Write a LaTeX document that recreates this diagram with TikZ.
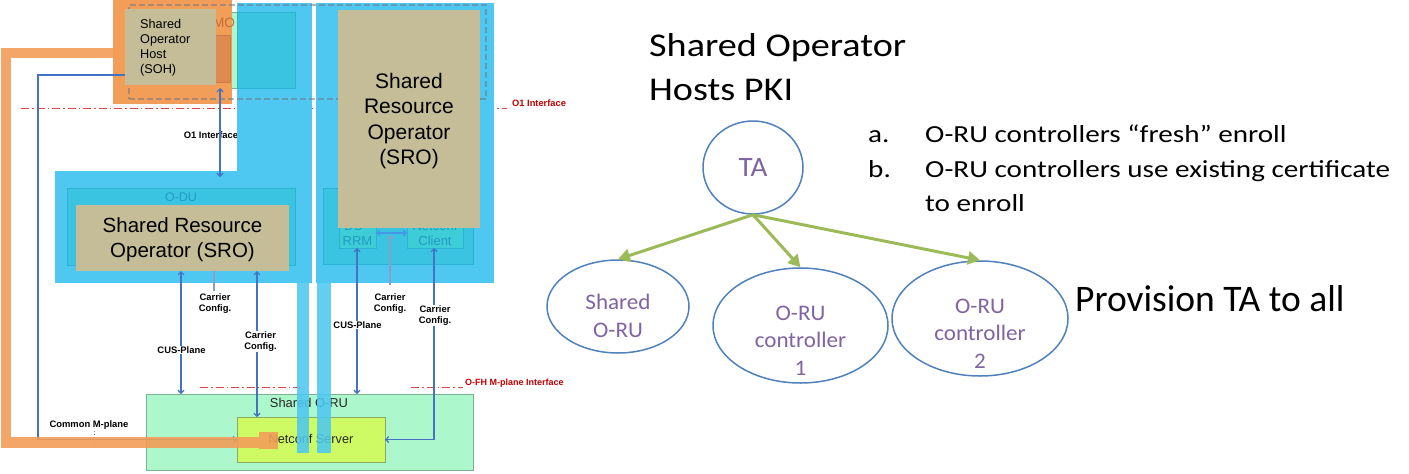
\documentclass[tikz,border=0pt]{standalone}
\usepackage{fontspec}
\setmainfont{Liberation Sans}
\newfontfamily\calfont{Carlito}
\newfontfamily\caltitle[FakeStretch=1.15]{Carlito}
\newfontfamily\callist[FakeStretch=1.19]{Carlito}
\newfontfamily\calell[FakeStretch=1.04]{Carlito}
\usetikzlibrary{arrows.meta,shapes.geometric}
\definecolor{cblue}{RGB}{78,200,240}
\definecolor{cdark}{RGB}{58,196,226}
\definecolor{cdarkline}{RGB}{44,178,212}
\definecolor{cboxin}{RGB}{62,204,214}
\definecolor{ctan}{RGB}{196,189,151}
\definecolor{corange}{RGB}{242,157,88}
\definecolor{corinner}{RGB}{224,138,82}
\definecolor{corinline}{RGB}{205,122,70}
\definecolor{cgreen}{RGB}{173,247,204}
\definecolor{cgreenline}{RGB}{125,175,145}
\definecolor{cyel}{RGB}{206,250,100}
\definecolor{cyelline}{RGB}{140,170,95}
\definecolor{lblue}{RGB}{68,114,196}
\definecolor{lgrey}{RGB}{135,160,200}
\definecolor{lcyan}{RGB}{70,150,225}
\definecolor{cred}{RGB}{192,0,0}
\definecolor{credline}{RGB}{222,70,70}
\definecolor{ellline}{RGB}{79,129,189}
\definecolor{purp}{RGB}{128,100,162}
\definecolor{agreen}{RGB}{155,187,89}
\definecolor{dimtext}{RGB}{35,155,195}
\definecolor{mtext}{RGB}{195,110,55}
\definecolor{dashgrey}{RGB}{110,120,130}
\newcommand\mkbox[6]{\node[rbox,#6,minimum width={(#4)-(#2)},minimum height={(#5)-(#3)}] (#1) at (#2,#3) {};}
\tikzset{
  rbox/.style={anchor=north west, inner sep=0pt, outer sep=0pt},
  txt/.style={anchor=base, inner sep=0pt, align=center},
  lbl/.style={anchor=base, align=center, inner sep=0.6pt, fill=white, font=\bfseries\fontsize{9.4}{11}\selectfont},
  redlbl/.style={anchor=base west, inner sep=0pt, text=cred, font=\bfseries\fontsize{9.3}{11}\selectfont},
  reddash/.style={draw=credline, line width=0.9pt, dash pattern=on 8pt off 3pt on 1.5pt off 3pt},
  conn/.style={draw=lblue, line width=1.2pt, arrows={Straight Barb[length=3pt,width=6pt]-Straight Barb[length=3pt,width=6pt]}},
  connend/.style={draw=lblue, line width=1.2pt, -{Straight Barb[length=3pt,width=6pt]}},
  ell/.style={ellipse, draw=ellline, line width=1.5pt, inner sep=0pt},
  elltxt/.style={anchor=base, align=center, inner sep=0pt, text=purp, font=\calell\fontsize{22.2}{27.5}\selectfont},
  garrow/.style={draw=agreen, line width=3pt, -{Triangle[length=12pt,width=13pt]}},
  big/.style={inner sep=0pt, font=\calfont\fontsize{37.5}{44}\selectfont},
  titlefont/.style={inner sep=0pt, font=\caltitle\fontsize{33.2}{44}\selectfont},
  mid/.style={inner sep=0pt, anchor=base west, font=\callist\fontsize{24.5}{34.5}\selectfont},
}
\begin{document}
\begin{tikzpicture}[x=1pt,y=-1pt]
\useasboundingbox[fill=white] (0,0) rectangle (1409,474);

% ---------- SMO area under the orange ----------
\mkbox{smogreen}{145}{12}{295}{88}{fill=cgreen, draw=cgreenline, line width=0.8pt}
\mkbox{sohblock}{113}{0}{232}{104}{fill=corange}
\mkbox{smoinner}{145}{35}{230}{82}{fill=corinner, draw=corinline, line width=0.8pt}
\node[txt, text=mtext, font=\fontsize{13.6}{16}\selectfont] (smolabel) at (219.5,27) {SMO};

% ---------- O1 interface line ----------
\coordinate (o1a) at (21,108);
\coordinate (o1b) at (507,108);
\draw[reddash] (o1a) -- (o1b);
\node[redlbl] (o1lbl) at (512,106.3) {O1 Interface};

% O1 Interface label (partly under the blue column)
\begin{scope}
\clip (0,110) rectangle (237,170);
\node[lbl] (o1lblb) at (211,138.3) {O1 Interface};
\end{scope}

% ---------- blue columns ----------
\mkbox{col1}{237}{3}{312}{283}{fill=cblue}
\mkbox{dublue}{55}{171}{312}{283}{fill=cblue}
\mkbox{col2}{316}{3}{494}{283}{fill=cblue}
\mkbox{smodark}{237}{12}{295}{88}{fill=cdark, draw=cdarkline, line width=0.8pt}

% dashed SMO outline
\mkbox{smo}{129}{5}{486}{99}{draw=dashgrey, draw opacity=0.55, line width=1.2pt, dash pattern=on 6pt off 3pt}

% SOH
\mkbox{soh}{125}{9}{216}{85}{fill=ctan}
\node[anchor=base west, inner sep=0pt, align=left, font=\fontsize{12.7}{15}\selectfont] (sohtext) at (140,73.5) {Shared\\Operator\\Host\\(SOH)};

% ---------- O-DU (left) ----------
\mkbox{odu}{67}{188}{295}{265}{fill=cdark, draw=cdarkline, line width=0.8pt}
\node[txt, text=dimtext, font=\fontsize{12.5}{15}\selectfont] (odutext) at (181,201.5) {O-DU};
\mkbox{sroL}{76}{205}{289}{271}{fill=ctan}
\node[txt, font=\fontsize{20.5}{25}\selectfont] (sroLtext) at (182.5,257.3) {Shared Resource\\Operator (SRO)};

% ---------- right column ----------
\mkbox{odu2}{323}{188}{473}{264}{fill=cdark, draw=cdarkline, line width=0.8pt}
\mkbox{durrm}{339}{212}{376}{248}{fill=cboxin, draw=cdarkline, line width=0.8pt}
\mkbox{ncc}{407}{212}{463}{248}{fill=cboxin, draw=cdarkline, line width=0.8pt}
\node[txt, text=dimtext, font=\fontsize{13}{15}\selectfont] (durrmtext) at (357.5,245.6) {DU -\\RRM};
\node[txt, text=dimtext, font=\fontsize{13}{15}\selectfont] (ncctext) at (435,245.6) {Netconf\\Client};
\mkbox{sroR}{338}{10}{480}{228}{fill=ctan}
\node[txt, font=\fontsize{21}{25.3}\selectfont] (sroRtext) at (409,164.4) {Shared\\Resource\\Operator\\(SRO)};

\coordinate (y233) at (0,233);
\draw[conn, draw=lcyan] (durrm.east |- y233) -- (ncc.west |- y233);

% ---------- Shared O-RU ----------
\mkbox{oru}{146}{394}{473}{470}{fill=cgreen, draw=cgreenline, line width=0.9pt}
\node[txt, text=black!85, font=\fontsize{12.9}{15}\selectfont] (orutext) at (309,407.6) {Shared O-RU};
\mkbox{ncs}{237}{417}{385}{462}{fill=cyel, draw=cyelline, line width=0.9pt}
\node[txt, text=black!85, font=\fontsize{12.7}{15}\selectfont] (ncstext) at (311,443.5) {Netconf Server};

% O-FH M-plane interface line
\coordinate (ofa) at (200,387);
\coordinate (ofb) at (305,387);
\coordinate (ofc) at (411,387);
\coordinate (ofd) at (463,387);
\draw[reddash] (ofa) -- (ofb);
\draw[reddash] (ofc) -- (ofd);
\node[redlbl, font=\bfseries\fontsize{9}{11}\selectfont] (oflbl) at (465,385.3) {O-FH M-plane Interface};

% ---------- connectors ----------
\coordinate (xo) at (220,0);
\coordinate (o1end) at (220,177);
\draw[conn] (smogreen.south -| xo) -- (o1end);

\coordinate (xa) at (181,0);
\coordinate (xb) at (214,0);
\coordinate (xc) at (257,0);
\coordinate (xd) at (357,0);
\coordinate (xe) at (390,0);
\coordinate (xr) at (434,0);
\coordinate (cbend) at (214,291);
\coordinate (cetop) at (390,235);
\coordinate (ceend) at (390,285);
\draw[conn] (sroL.south -| xa) -- (oru.north -| xa);
\draw[draw=lgrey, line width=1.1pt] (sroL.south -| xb) -- (cbend);
\draw[conn] (sroL.south -| xc) -- (ncs.north -| xc);
\draw[conn] (durrm.south -| xd) -- (oru.north -| xd);
\draw[draw=lgrey, line width=1.1pt, {Straight Barb[length=3pt,width=6pt]}-] (cetop) -- (ceend);
\draw[conn] (ncc.south -| xr) -- (xr |- ncs.east) -- (ncs.east);

\node[lbl] (lcus) at (181.5,353.3) {CUS-Plane};
\node[lbl] (lcc1) at (215,311.3) {Carrier\\Config.};
\node[lbl] (lcc2) at (260.5,349) {Carrier\\Config.};
\node[lbl] (rcus) at (357.5,328.3) {CUS-Plane};
\node[lbl] (rcc1) at (390,311.5) {Carrier\\Config.};
\node[lbl] (rcc2) at (435,323.5) {Carrier\\Config.};

% Common M-plane
\coordinate (ym) at (0,75);
\coordinate (xm) at (38,0);
\draw[connend] (soh.west |- ym) -- (xm |- ym) -- (xm |- ncs.west) -- (ncs.west);
\node[lbl, fill=none] (lcm) at (89,427.3) {Common M-plane};
\coordinate (dt1) at (94,431);
\coordinate (dt2) at (94,447);
\draw[gray, line width=0.8pt, dotted] (dt1) -- (dt2);

% orange frame
\coordinate (of1) at (113,53);
\coordinate (of2) at (6,53);
\coordinate (of3) at (6,442.5);
\coordinate (of4) at (259,442.5);
\draw[corange, opacity=0.9, line width=10.5pt, line join=miter] (of1) -- (of2) -- (of3) -- (of4);
\mkbox{orsq}{259}{432}{278}{449}{fill=corange, fill opacity=0.9}

% blue bars
\mkbox{bar1}{297}{283}{309}{453}{fill=cblue, fill opacity=0.88}
\mkbox{bar2}{317}{283}{331}{453}{fill=cblue, fill opacity=0.88}

% ---------- right side ----------
\node[titlefont, anchor=base west, align=left] (title) at (649,100) {Shared Operator\\Hosts PKI};

\node[mid] (la) at (868,142.7) {a.};
\node[mid] (lat) at (925,142.7) {O-RU controllers “fresh” enroll};
\node[mid] (lb) at (868,177) {b.};
\node[mid, align=left] (lbt) at (925,211.5) {O-RU controllers use existing certificate\\to enroll};

\node[big, anchor=base west] (prov) at (1075,311) {Provision TA to all};

\node[ell, minimum width=100pt, minimum height=93pt] (ta) at (753,167.5) {};
\node[ell, minimum width=142pt, minimum height=93pt] (shoru) at (618,306.5) {};
\node[ell, minimum width=175pt, minimum height=115pt] (c1) at (800.5,325.5) {};
\node[ell, minimum width=176pt, minimum height=115pt] (c2) at (980,318.5) {};

\node[elltxt, font=\calell\fontsize{28}{30}\selectfont] (tatext) at (753,176) {TA};
\node[elltxt] (shorutext) at (618,337) {Shared\\O-RU};
\node[elltxt] (c1text) at (800.5,375) {O-RU\\controller\\1};
\node[elltxt] (c2text) at (980,368) {O-RU\\controller\\2};

\draw[garrow] (ta.south) -- (shoru.north);
\draw[garrow] (ta.south) -- (c1.north);
\draw[garrow] (ta.south) -- (c2.north);
\end{tikzpicture}
\end{document}
